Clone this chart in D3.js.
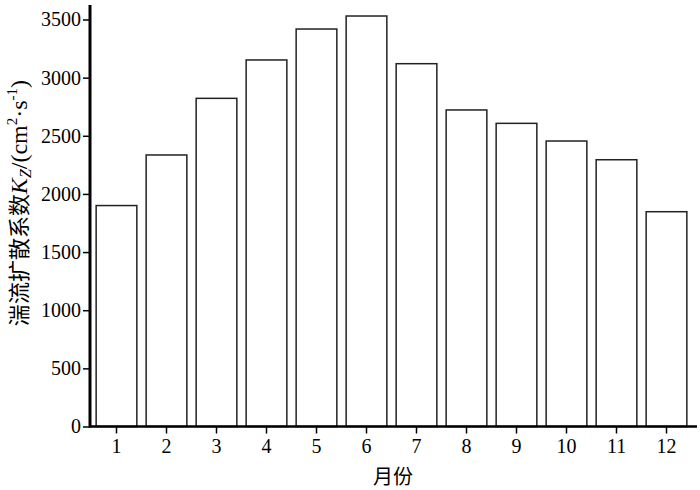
<!DOCTYPE html>
<html>
<head>
<meta charset="utf-8">
<script src="https://cdn.jsdelivr.net/npm/d3@7"></script>
<style>
  body { margin: 0; background: #fff; }
  svg text { font-family: "Liberation Serif", "Times New Roman", serif; fill: #000; }
</style>
</head>
<body>
<div id="chart"></div>
<script>
(function(){
    // months and monthly Kz values
    var months = ["1","2","3","4","5","6","7","8","9","10","11","12"];
    var kzValues = [1900, 2335, 2822, 3152, 3418, 3530, 3120, 2722, 2607, 2455, 2294, 1847];
    var yTicks = [0, 500, 1000, 1500, 2000, 2500, 3000, 3500];

    var width = 700, height = 490;
    var left = 90, right = 697, top = 5, bottom = 426.5;

    var svg = d3.select("#chart").append("svg")
        .attr("width", width)
        .attr("height", height);

    var x = d3.scaleBand()
        .domain(months)
        .range([91.5, 691.5])
        .paddingInner(0.186)
        .paddingOuter(0.093);

    var y = d3.scaleLinear()
        .domain([0, 3500])
        .range([bottom, 19.5]);

    //bars
    svg.selectAll("rect.bar")
        .data(kzValues)
        .enter()
        .append("rect")
        .attr("class","bar")
        .attr("x", function(d, i){ return x(months[i]); })
        .attr("y", function(d){ return y(d); })
        .attr("width", x.bandwidth())
        .attr("height", function(d){ return bottom - y(d); })
        .attr("fill","#fff")
        .attr("stroke","#222")
        .attr("stroke-width",1.5);

    //y axis
    var yAxis = svg.append("g")
        .attr("transform","translate(" + left + ",0)")
        .call(d3.axisLeft(y).tickValues(yTicks).tickFormat(d3.format("d")).tickSize(7).tickPadding(2));
    yAxis.attr("font-family", null);
    yAxis.select(".domain").remove();
    yAxis.selectAll(".tick line").attr("stroke","#000").attr("stroke-width",1.5);
    yAxis.selectAll(".tick text").style("font-size","20px");

    //x axis
    var xAxis = svg.append("g")
        .attr("transform","translate(0," + bottom + ")")
        .call(d3.axisBottom(x).tickSize(7).tickPadding(5));
    xAxis.attr("font-family", null);
    xAxis.select(".domain").remove();
    xAxis.selectAll(".tick line").attr("stroke","#000").attr("stroke-width",1.5);
    xAxis.selectAll(".tick text").style("font-size","20px");

    //axis lines drawn thick
    svg.append("line")
        .attr("x1", left).attr("x2", left)
        .attr("y1", top).attr("y2", bottom + 1)
        .attr("stroke","#000").attr("stroke-width",3);
    svg.append("line")
        .attr("x1", left - 1).attr("x2", right)
        .attr("y1", bottom).attr("y2", bottom)
        .attr("stroke","#000").attr("stroke-width",2.5);

    //x title
    svg.append("text")
        .attr("x", 393)
        .attr("y", 484)
        .attr("text-anchor","middle")
        .style("font-family","'Noto Sans CJK SC', sans-serif")
        .style("font-size","20px")
        .text("月份");

    //y title
    var yt = svg.append("text")
        .attr("transform","translate(27,203) rotate(-90)")
        .attr("text-anchor","middle")
        .style("font-size","24px");
    yt.append("tspan")
        .style("font-family","'Noto Sans CJK SC', sans-serif")
        .style("font-size","22px")
        .text("湍流扩散系数");
    yt.append("tspan").style("font-style","italic").text("K");
    yt.append("tspan").style("font-style","italic").style("font-size","16px").attr("dy", 4).text("Z");
    yt.append("tspan").attr("dy", -4).text("/(cm");
    yt.append("tspan").style("font-size","15px").attr("dy", -10).text("2");
    yt.append("tspan").attr("dy", 10).text("·s");
    yt.append("tspan").style("font-size","15px").attr("dy", -10).text("-1");
    yt.append("tspan").attr("dy", 10).text(")");
})()
</script>
</body>
</html>
